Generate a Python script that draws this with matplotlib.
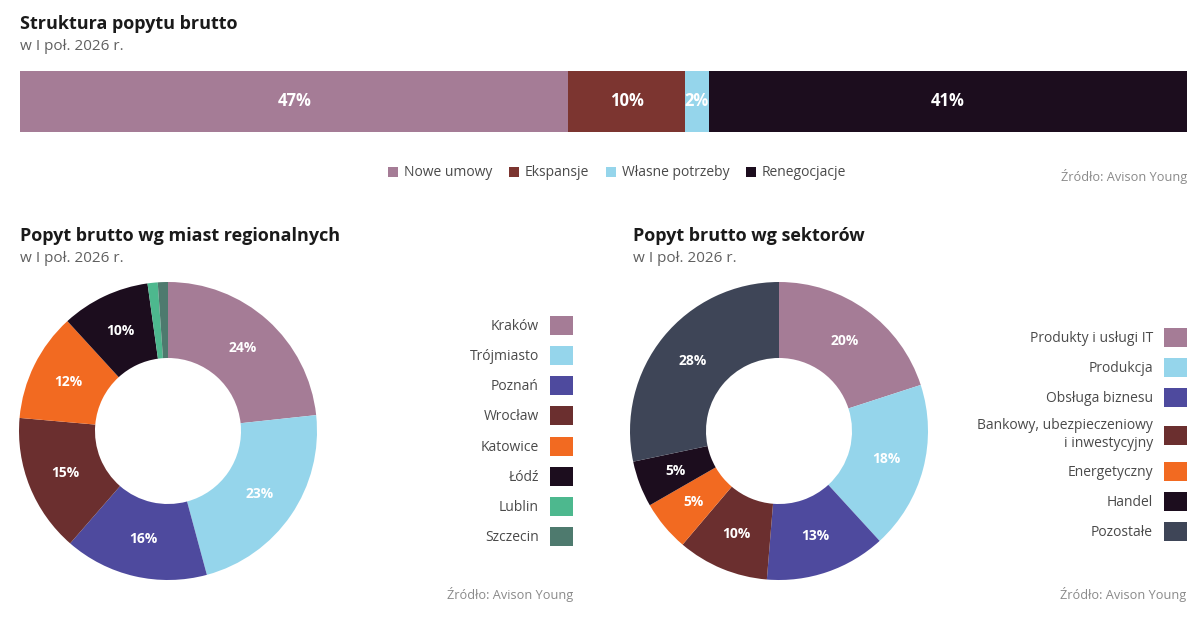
import matplotlib
matplotlib.use("Agg")
import matplotlib.pyplot as plt
import numpy as np

W, H = 1200, 623
plt.rcParams['font.family'] = ['Open Sans', 'DejaVu Sans']

# ---------------- data ----------------
bar_categories = ["Nowe umowy", "Ekspansje", "Własne potrzeby", "Renegocjacje"]
bar_values = [47, 10, 2, 41]
bar_labels = ["47%", "10%", "2%", "41%"]
bar_colors = ["#A57C96", "#7C3530", "#95D5EB", "#1C0D1E"]

cities = ["Kraków", "Trójmiasto", "Poznań", "Wrocław", "Katowice", "Łódź", "Lublin", "Szczecin"]
city_values = [23.3, 22.5, 15.6, 15.0, 11.8, 9.6, 1.1, 1.1]
city_labels = ["24%", "23%", "16%", "15%", "12%", "10%", "", ""]
city_colors = ["#A57C96", "#95D5EB", "#4E4A9E", "#6B2F2F", "#F26A21", "#1C0D1E", "#4DB88E", "#4E7A6E"]

sectors = ["Produkty i usługi IT", "Produkcja", "Obsługa biznesu",
           "Bankowy, ubezpieczeniowy\ni inwestycyjny", "Energetyczny", "Handel", "Pozostałe"]
sector_values = [20.0, 18.2, 13.1, 9.9, 5.5, 5.0, 28.3]
sector_labels = ["20%", "18%", "13%", "10%", "5%", "5%", "28%"]
sector_colors = ["#A57C96", "#95D5EB", "#4E4A9E", "#6B2F2F", "#F26A21", "#1C0D1E", "#3E4557"]

title_top = "Struktura popytu brutto"
title_left = "Popyt brutto wg miast regionalnych"
title_right = "Popyt brutto wg sektorów"
subtitle = "w I poł. 2026 r."
source = "Źródło: Avison Young"

# ---------------- helpers ----------------
def fx(x):
    return x / W

def fy(y):
    return 1 - y / H

fig = plt.figure(figsize=(W / 100, H / 100), dpi=100)
fig.patch.set_facecolor("white")

TITLE_C = "#1a1a1a"
SUB_C = "#606060"
TXT_C = "#4a4a4a"
SRC_C = "#8a8a8a"

def titles(x, y, t):
    fig.text(fx(x), fy(y), t, ha="left", va="center", fontsize=13, fontweight="bold", color=TITLE_C)
    fig.text(fx(x), fy(y + 22), subtitle, ha="left", va="center", fontsize=11, color=SUB_C)

titles(20, 24, title_top)
titles(20, 236, title_left)
titles(633, 236, title_right)

# ---------------- stacked bar ----------------
axb = fig.add_axes([fx(20), fy(132), 1167 / W, 61 / H])
left = 0
bars = []
for cat, v, lab, c in zip(bar_categories, bar_values, bar_labels, bar_colors):
    b = axb.barh(0, v, left=left, height=1, color=c, linewidth=0, label=cat)
    bars.append(b)
    axb.text(left + v / 2, 0, lab, ha="center", va="center", color="white",
             fontsize=12, fontweight="bold")
    left += v
axb.set_xlim(0, sum(bar_values))
axb.set_ylim(-0.5, 0.5)
axb.axis("off")

fig.legend(handles=[b.patches[0] for b in bars], labels=bar_categories,
           loc="center", bbox_to_anchor=(fx(617), fy(173)), ncol=4, frameon=False,
           fontsize=10, handlelength=0.75, handleheight=0.75, handletextpad=0.4,
           columnspacing=1.2, labelcolor=TXT_C, borderpad=0)
fig.text(fx(1187), fy(176), source, ha="right", va="center", fontsize=9.2, color=SRC_C)

# ---------------- donuts ----------------
def donut(cx, cy, r, values, labels, colors):
    ax = fig.add_axes([fx(cx - r), fy(cy + r), 2 * r / W, 2 * r / H])
    wedges, _ = ax.pie(values, colors=colors, startangle=90, counterclock=False,
                       radius=1, wedgeprops=dict(width=0.51, linewidth=0))
    for w, lab in zip(wedges, labels):
        if not lab:
            continue
        ang = np.deg2rad((w.theta1 + w.theta2) / 2)
        ax.text(0.745 * np.cos(ang), 0.745 * np.sin(ang), lab, ha="center", va="center",
                color="white", fontsize=10, fontweight="bold")
    ax.set_xlim(-1, 1)
    ax.set_ylim(-1, 1)
    ax.axis("off")
    return ax, wedges

axl, wl = donut(168, 431, 149, city_values, city_labels, city_colors)
axr, wr = donut(779, 431, 149, sector_values, sector_labels, sector_colors)

leg_kw = dict(loc="upper right", markerfirst=False, frameon=False, fontsize=10,
              handlelength=1.65, handleheight=1.73, labelspacing=0.8, handletextpad=0.8,
              borderpad=0, borderaxespad=0, labelcolor=TXT_C)
fig.legend(handles=wl, labels=cities, bbox_to_anchor=(fx(573), fy(316)), **leg_kw)
lr = fig.legend(handles=wr, labels=sectors, bbox_to_anchor=(fx(1187), fy(328)), **leg_kw)
for t in lr.get_texts():
    t.set_multialignment("right")

fig.text(fx(573), fy(594), source, ha="right", va="center", fontsize=9.2, color=SRC_C)
fig.text(fx(1186), fy(594), source, ha="right", va="center", fontsize=9.2, color=SRC_C)

fig.savefig("out.png", dpi=100, facecolor="white")
